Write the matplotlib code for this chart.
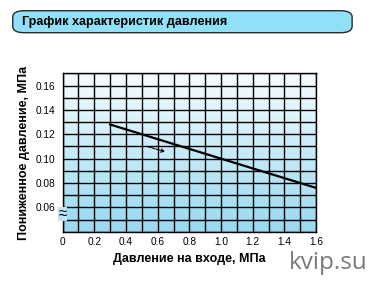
import numpy as np
import matplotlib
matplotlib.use("Agg")
from matplotlib import pyplot as plt
from matplotlib.patches import FancyBboxPatch
from matplotlib.colors import LinearSegmentedColormap

# data
inlet_pressure = [0.3, 1.6]        # MPa
reduced_pressure = [0.128, 0.076]  # MPa
x_ticks = [0, 0.2, 0.4, 0.6, 0.8, 1.0, 1.2, 1.4, 1.6]
x_tick_labels = ["0", "0.2", "0.4", "0.6", "0.8", "1.0", "1.2", "1.4", "1.6"]
y_ticks = [0.06, 0.08, 0.10, 0.12, 0.14, 0.16]
y_tick_labels = ["0.06", "0.08", "0.10", "0.12", "0.14", "0.16"]
arrow_start = (0.52, 0.1105)
arrow_end = (0.665, 0.1050)

title = "График характеристик давления"
xlabel = "Давление на входе, МПа"
ylabel = "Пониженное давление, МПа"

plt.rcParams['font.family'] = ['Liberation Sans', 'DejaVu Sans']

fig = plt.figure(figsize=(3.75, 2.82), dpi=100)
ax = fig.add_axes([0.167, 0.178, 0.676, 0.562])

# gradient background
cmap = LinearSegmentedColormap.from_list("bg", ["#f6fcff", "#98d9f1"])
grad = np.linspace(0, 1, 256).reshape(-1, 1)
ax.imshow(grad, cmap=cmap, aspect="auto", extent=[0, 1.6, 0.04, 0.17],
          origin="upper", zorder=0)

ax.set_xlim(0, 1.6)
ax.set_ylim(0.04, 0.17)

# grid
for gx in np.arange(0, 1.61, 0.1):
  ax.axvline(gx, color="black", lw=1.0, zorder=1)
for gy in np.arange(0.04, 0.171, 0.01):
  ax.axhline(gy, color="black", lw=1.0, zorder=1)

ax.plot(inlet_pressure, reduced_pressure, color="black", lw=1.6, zorder=3)
ax.annotate("", xy=arrow_end, xytext=arrow_start,
            arrowprops=dict(arrowstyle="->", color="black", lw=0.8,
                            linestyle=(0, (3, 1)), mutation_scale=6),
            zorder=3)

ax.set_xticks(x_ticks)
ax.set_xticklabels(x_tick_labels)
ax.set_yticks(y_ticks)
ax.set_yticklabels(y_tick_labels)
ax.tick_params(length=0, labelsize=7.3, pad=5)
ax.tick_params(axis="x", pad=4)
for s in ax.spines.values():
  s.set_linewidth(1.0)

ax.set_xlabel(xlabel, fontsize=9, fontweight="bold", labelpad=4)
ax.set_ylabel(ylabel, fontsize=9, fontweight="bold", labelpad=4)

# axis break mark
ax.text(0, 0.0548, "≈", ha="center", va="center", fontsize=11,
        clip_on=False, zorder=4,
        bbox=dict(boxstyle="square,pad=0.0", fc="#bfe6f6", ec="none"))

# title box
box = FancyBboxPatch((0.034, 0.884), 0.905, 0.078,
                     boxstyle="round,pad=0,rounding_size=0.03",
                     transform=fig.transFigure, fc="#90e0f8", ec="#2a2a2a",
                     lw=1.0, mutation_aspect=282 / 375)
fig.patches.append(box)
fig.text(0.060, 0.922, title, fontsize=9.1, fontweight="bold", va="center")

fig.text(0.980, 0.068, "kvip.su", family="Open Sans", fontsize=17.5,
         color="#7a7a7a", ha="right", va="center")

plt.savefig("out.png", dpi=100)
plt.close(fig)
